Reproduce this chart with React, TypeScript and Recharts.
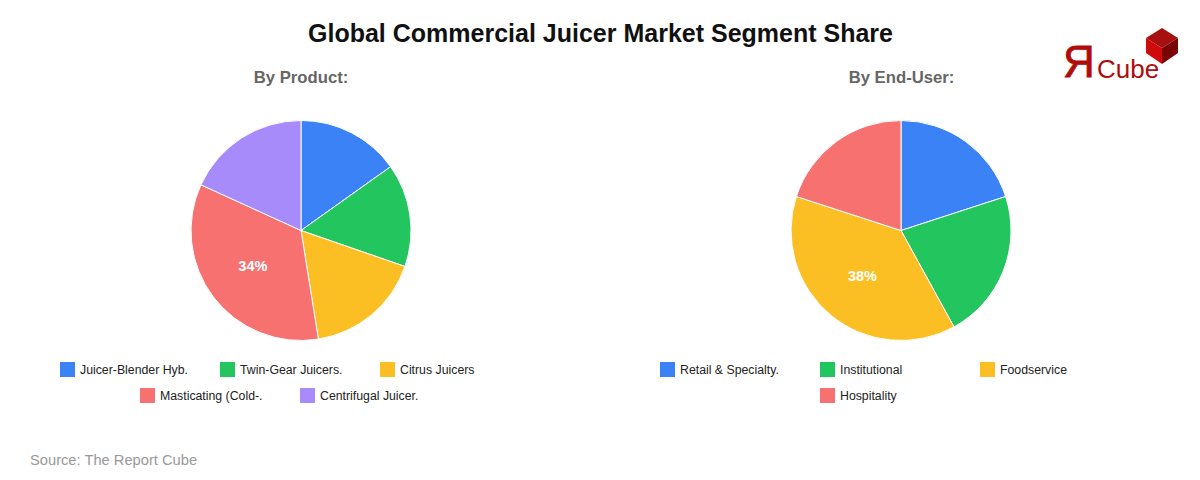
import { PieChart, Pie, Cell, Legend } from "recharts";

const productNames = ["Juicer-Blender Hyb.", "Twin-Gear Juicers.", "Citrus Juicers", "Masticating (Cold-.", "Centrifugal Juicer."];
const productShares = [15, 15, 17, 34, 18];
const productColors = ["#3b82f6", "#22c55e", "#fbbf24", "#f87171", "#a78bfa"];

const endUserNames = ["Retail & Specialty.", "Institutional", "Foodservice", "Hospitality"];
const endUserShares = [20, 22, 38, 20];
const endUserColors = ["#3b82f6", "#22c55e", "#fbbf24", "#f87171"];

const FONT = '"Liberation Sans", Arial, sans-serif';
const RADIAN = Math.PI / 180;

function toRows(names: string[], values: number[]) {
  return names.map((name, i) => ({ name, value: values[i] }));
}

// only the biggest slice gets a label
function bigSliceLabel(max: number) {
  return function SliceLabel(props: any) {
    const { cx, cy, midAngle, outerRadius, value } = props;
    if (value !== max) return null;
    const r = outerRadius * 0.55;
    return (
      <text
        x={cx + r * Math.cos(-midAngle * RADIAN)}
        y={cy + r * Math.sin(-midAngle * RADIAN) - 1}
        fill="#ffffff"
        fontFamily={FONT}
        fontSize={14.5}
        fontWeight="bold"
        textAnchor="middle"
        dominantBaseline="central"
      >
        {value}%
      </text>
    );
  };
}

function LegendBlock({ payload }: { payload?: any[] }) {
  return (
    <div style={{ display: "flex", flexWrap: "wrap", justifyContent: "center", width: 480, fontFamily: FONT }}>
      {(payload ?? []).map((item) => (
        <div key={item.value} style={{ width: 160, height: 26, display: "flex", alignItems: "center", boxSizing: "border-box" }}>
          <span style={{ width: 15, height: 15, background: item.color, marginRight: 5, flexShrink: 0 }} />
          <span style={{ fontSize: 12.3, color: "#222222", whiteSpace: "nowrap", position: "relative", top: 1 }}>{item.value}</span>
        </div>
      ))}
    </div>
  );
}

function SharePie({ names, values, colors }: { names: string[]; values: number[]; colors: string[] }) {
  const data = toRows(names, values);
  return (
    <PieChart width={600} height={480} margin={{ top: 0, right: 0, bottom: 0, left: 0 }}>
      <Pie
        data={data}
        dataKey="value"
        nameKey="name"
        cx={301}
        cy={230.5}
        outerRadius={110}
        startAngle={90}
        endAngle={-270}
        stroke="#ffffff"
        strokeWidth={1}
        label={bigSliceLabel(Math.max(...values))}
        labelLine={false}
        isAnimationActive={false}
      >
        {data.map((d, i) => (
          <Cell key={d.name} fill={colors[i]} />
        ))}
      </Pie>
      <Legend
        content={<LegendBlock />}
        itemSorter={null}
        wrapperStyle={{ left: 60, top: 356, bottom: "auto", width: 480 }}
      />
    </PieChart>
  );
}

function Logo() {
  return (
    <svg width={140} height={70} viewBox="1050 20 140 70" style={{ position: "absolute", left: 1050, top: 20 }}>
      <polygon points="1162,28 1178,38 1162,48 1146,38" fill="#a80f0f" />
      <polygon points="1146,38 1162,48 1162,64 1146,53" fill="#cf0a0a" />
      <polygon points="1178,38 1178,53 1162,64 1162,48" fill="#7a0303" />
      <text x={1063} y={77} fontFamily={FONT} fontSize={44} fill="#b00c0c" stroke="#b00c0c" strokeWidth={0.8}>Я</text>
      <text x={1097} y={77.5} fontFamily={FONT} fontSize={26} fill="#b00c0c">Cube</text>
    </svg>
  );
}

export default function App() {
  return (
    <div style={{ position: "absolute", left: 0, top: 0, width: 1200, height: 480, background: "#fff", fontFamily: FONT, overflow: "hidden" }}>
      <div style={{ position: "absolute", left: 0, width: 1201, top: 19, textAlign: "center", fontSize: 25, lineHeight: "28px", fontWeight: "bold", color: "#111111" }}>
        Global Commercial Juicer Market Segment Share
      </div>
      <div style={{ position: "absolute", left: 0, top: 0 }}>
        <SharePie names={productNames} values={productShares} colors={productColors} />
      </div>
      <div style={{ position: "absolute", left: 600, top: 0 }}>
        <SharePie names={endUserNames} values={endUserShares} colors={endUserColors} />
      </div>
      <div style={{ position: "absolute", left: 0, width: 602, top: 69, textAlign: "center", fontSize: 16.7, lineHeight: "18px", fontWeight: "bold", color: "#666666" }}>
        By Product:
      </div>
      <div style={{ position: "absolute", left: 600, width: 603, top: 69, textAlign: "center", fontSize: 16.7, lineHeight: "18px", fontWeight: "bold", color: "#666666" }}>
        By End-User:
      </div>
      <Logo />
      <div style={{ position: "absolute", left: 30, top: 452, fontSize: 14.7, lineHeight: "16px", color: "#999999" }}>
        Source: The Report Cube
      </div>
    </div>
  );
}
